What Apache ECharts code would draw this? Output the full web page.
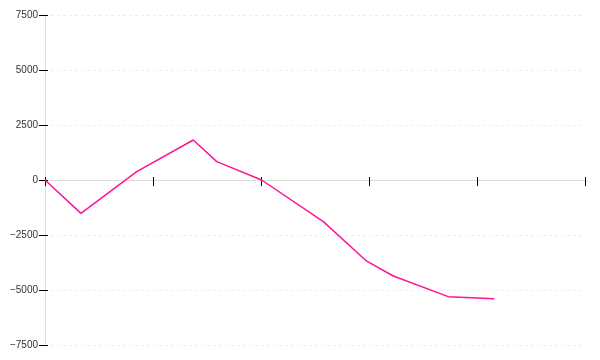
<!DOCTYPE html>
<html>
<head>
<meta charset="utf-8">
<script src="https://cdn.jsdelivr.net/npm/echarts@6/dist/echarts.min.js"></script>
<style>
html,body{margin:0;padding:0;background:#fff;}
#c{width:600px;height:360px;}
</style>
</head>
<body>
<div id="c"></div>
<script>
var xValues = [0, 33.3, 84.9, 137.3, 159, 200.6, 257.7, 297.9, 322.5, 373.4, 416];
var yValues = [0, -1515, 379, 1818, 833, 0, -1894, -3690, -4364, -5303, -5394];
var yMin = -7500, yMax = 7500, yStep = 2500;
var xMin = 0, xMax = 500, xStep = 100;

var points = xValues.map(function (x, i) { return [x, yValues[i]]; });

var chart = echarts.init(document.getElementById('c'), null, {renderer: 'canvas'});
chart.setOption({
  animation: false,
  backgroundColor: '#fff',
  grid: {left: 45, right: 15, top: 15, bottom: 15, containLabel: false},
  xAxis: [{
    type: 'value', min: xMin, max: xMax, interval: xStep,
    axisLine: {show: true, onZero: true, lineStyle: {color: '#dddddd', width: 1}},
    axisTick: {show: true, inside: false, length: 6, lineStyle: {color: '#000', width: 1}},
    axisLabel: {show: false},
    splitLine: {show: false}
  }, {
    type: 'value', min: xMin, max: xMax, interval: xStep, position: 'bottom',
    axisLine: {show: false, onZero: true},
    axisTick: {show: true, inside: true, length: 3, lineStyle: {color: '#000', width: 1}},
    axisLabel: {show: false},
    splitLine: {show: false}
  }],
  yAxis: [{
    type: 'value', min: yMin, max: yMax, interval: yStep,
    axisLine: {show: true, onZero: false, lineStyle: {color: '#dddddd', width: 1}},
    axisTick: {show: true, inside: false, length: 6, lineStyle: {color: '#000', width: 1}},
    axisLabel: {
      show: true, margin: 7, color: '#333',
      fontFamily: 'Liberation Sans, Arial, sans-serif', fontSize: 10,
      formatter: function (v) { return String(v).replace('-', '\u2212'); }
    },
    splitLine: {show: true, lineStyle: {color: '#eeeeee', type: [3, 3], width: 1}}
  }, {
    type: 'value', min: yMin, max: yMax, interval: yStep, position: 'left',
    axisLine: {show: false, onZero: false},
    axisTick: {show: true, inside: true, length: 3, lineStyle: {color: '#000', width: 1}},
    axisLabel: {show: false},
    splitLine: {show: false}
  }],
  series: [{
    type: 'line',
    data: points,
    xAxisIndex: 0, yAxisIndex: 0,
    showSymbol: false, symbol: 'none',
    lineStyle: {color: '#ff1493', width: 1.5},
    itemStyle: {color: '#ff1493'}
  }]
});
</script>
</body>
</html>
